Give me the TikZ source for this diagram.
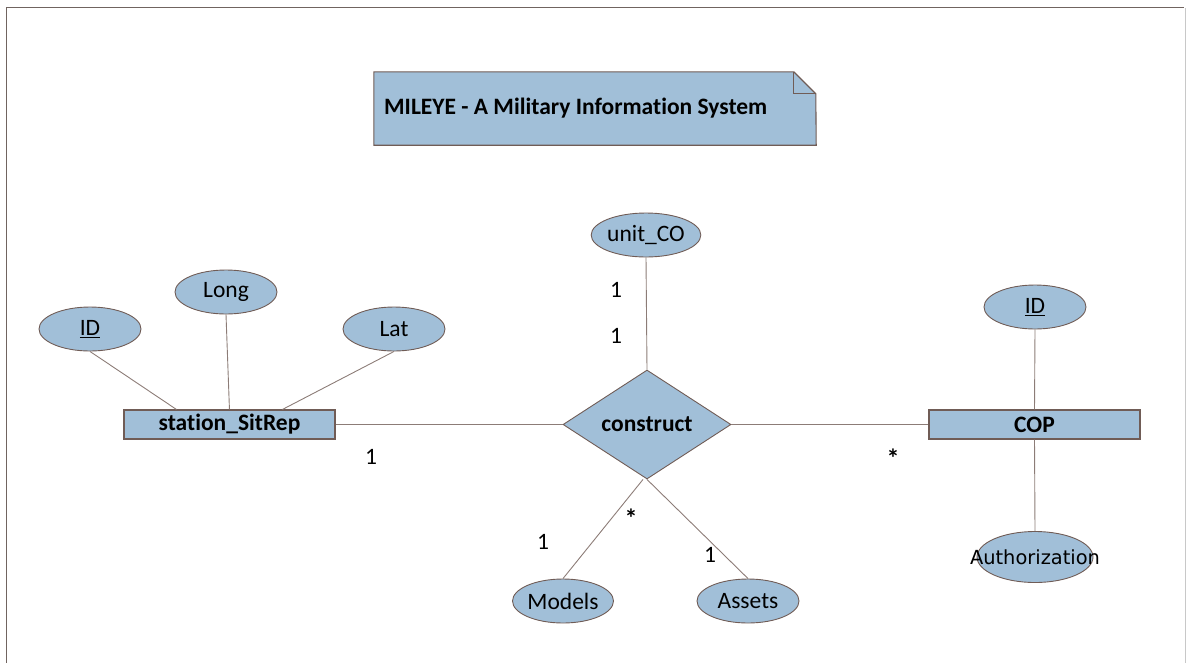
\documentclass[tikz,border=0pt]{standalone}
\usepackage{fontspec}
\setmainfont{Carlito}[Ligatures=NoCommon]
\newfontfamily\dejavu{DejaVu Sans}
\usetikzlibrary{shapes.geometric,calc}

\definecolor{erfill}{RGB}{161,191,216}
\definecolor{eredge}{RGB}{112,92,86}
\definecolor{erline}{RGB}{140,124,119}
\definecolor{framedark}{RGB}{112,100,96}
\definecolor{framelight}{RGB}{200,200,200}

\newcommand{\erfont}{\fontsize{23.5}{26}\selectfont}

\tikzset{
  entity/.style={draw=eredge, fill=erfill, line width=1.1pt, rectangle,
    minimum width=211pt, minimum height=29pt, inner sep=0pt,
    font=\erfont\bfseries},
  attr/.style={draw=eredge, fill=erfill, line width=0.9pt, ellipse,
    minimum width=102pt, minimum height=44pt, inner sep=0pt,
    font=\erfont},
  relation/.style={draw=eredge, fill=erfill, line width=0.9pt, diamond,
    aspect=1.54, minimum width=168pt, minimum height=109pt, inner sep=0pt,
    font=\erfont\bfseries},
  link/.style={draw=erline, line width=0.9pt},
  card/.style={font=\erfont, inner sep=0pt},
  star/.style={font=\fontsize{26}{28}\selectfont\bfseries, inner sep=0pt},
}

\begin{document}
\begin{tikzpicture}[x=1pt,y=-1pt]
\useasboundingbox (0,0) rectangle (1186,662);

% page frame
\draw[framedark, line width=1.4pt] (6.5,670) -- (6.5,7.5) -- (1184,7.5);
\draw[framelight, line width=1pt] (1185,8) -- (1185,670);

% title note with folded corner
\node[minimum width=442pt, minimum height=73pt, inner sep=0pt] (note) at (595,108.5) {};
\fill[erfill] (note.north west) -- ++(420,0) -- ++(22,22) -- (note.south east) -- (note.south west) -- cycle;
\draw[eredge, line width=1.1pt] (note.north west) -- ++(420,0) -- ++(22,22) -- (note.south east) -- (note.south west) -- cycle;
\draw[eredge, line width=1.1pt] ($(note.north west)+(420,0)$) -- ++(0,22) -- ++(22,0);
\node[anchor=west, inner sep=0pt, font=\erfont\bfseries] (title) at (384,108) {MILEYE - A Military Information System};

% entities and relationship
\node[entity] (station) at (229.5,424.5) {station\_SitRep};
\node[entity] (cop) at (1034.5,424.5) {COP};
\node[relation] (construct) at (647,424.5) {construct};

% attributes
\node[attr] (idL) at (90,329) {\underline{ID}};
\node[attr] (long) at (226,292) {Long};
\node[attr] (lat) at (394,329) {Lat};
\node[attr, minimum width=104pt] (unitco) at (646,235) {unit\_CO};
\node[attr] (idR) at (1035,307) {\underline{ID}};
\node[attr, minimum width=116pt, minimum height=51pt] (auth) at (1035,557) {};
\node[font=\dejavu\fontsize{19.4}{22}\selectfont, inner sep=0pt] (authtext) at (auth.center) {Authorization};
\node[attr, minimum width=101pt] (models) at (563,601) {Models};
\node[attr] (assets) at (748,601) {Assets};

% connectors
\path[link] (idL.south) -- ([xshift=53pt]station.north west);
\path[link] (long.south) -- ([xshift=106pt]station.north west);
\path[link] (lat.south) -- ([xshift=159pt]station.north west);
\path[link] (station.east) -- (construct.west);
\path[link] (construct.east) -- (cop.west);
\path[link] (unitco.south) -- (construct.north);
\path[link] (idR.south) -- (cop.north);
\path[link] (cop.south) -- (auth.north);
\path[link] ([xshift=-4pt]construct.south) -- (models.north);
\path[link] (construct.south) -- (assets.north);

% cardinalities
\node[card] (c1) at (616,290) {1};
\node[card] (c2) at (616,336) {1};
\node[card] (c3) at (371,457) {1};
\node[star] (c4) at (893,458) {*};
\node[star] (c5) at (631,518) {*};
\node[card] (c6) at (543,542) {1};
\node[card] (c7) at (710,555) {1};
\end{tikzpicture}
\end{document}
